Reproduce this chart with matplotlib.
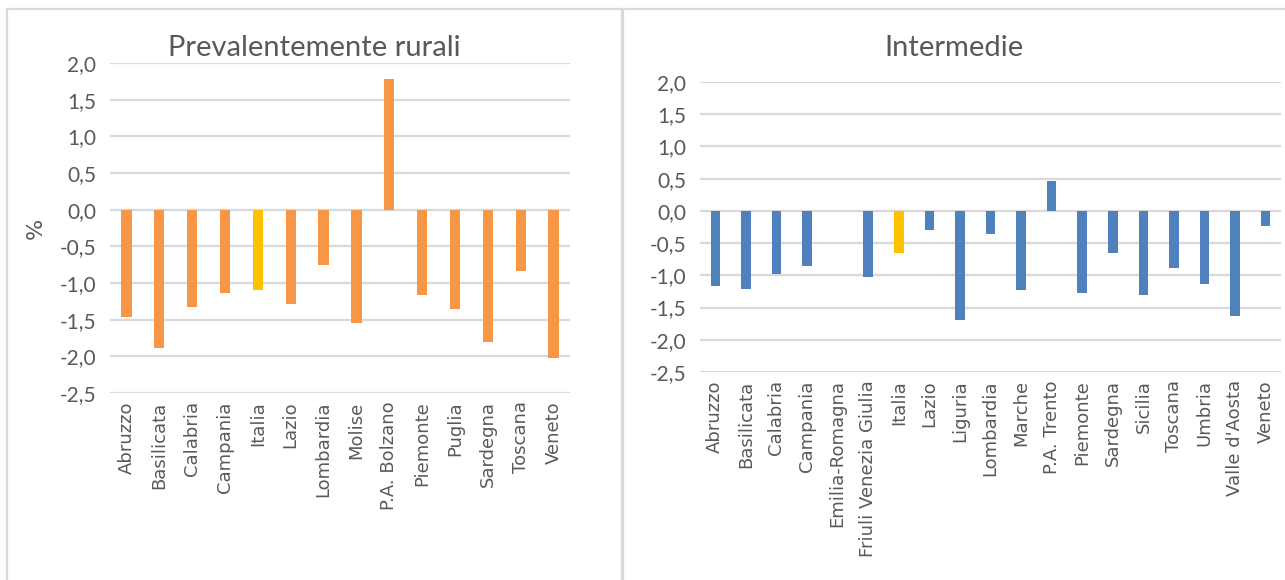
import matplotlib
matplotlib.use("Agg")
import matplotlib.pyplot as plt
from matplotlib.patches import Rectangle
from matplotlib.ticker import FuncFormatter
import numpy as np

# data (variation, %)
rural_regions = ["Abruzzo", "Basilicata", "Calabria", "Campania", "Italia", "Lazio",
                 "Lombardia", "Molise", "P.A. Bolzano", "Piemonte", "Puglia",
                 "Sardegna", "Toscana", "Veneto"]
rural_values = [-1.46, -1.88, -1.33, -1.13, -1.09, -1.28, -0.76, -1.55, 1.78,
                -1.17, -1.35, -1.81, -0.84, -2.02]

inter_regions = ["Abruzzo", "Basilicata", "Calabria", "Campania", "Emilia-Romagna",
                 "Friuli Venezia Giulia", "Italia", "Lazio", "Liguria", "Lombardia",
                 "Marche", "P.A. Trento", "Piemonte", "Sardegna", "Sicilia",
                 "Toscana", "Umbria", "Valle d'Aosta", "Veneto"]
inter_values = [-1.16, -1.21, -0.98, -0.86, np.nan, -1.02, -0.65, -0.30, -1.70,
                -0.36, -1.23, 0.46, -1.28, -0.65, -1.30, -0.88, -1.13, -1.63, -0.24]

yticks = [2.0, 1.5, 1.0, 0.5, 0.0, -0.5, -1.0, -1.5, -2.0, -2.5]

TXT = "#595959"
GRID = "#D9D9D9"
HIGHLIGHT = "#FFC000"


def panel(ax, cats, vals, color):
    x = np.arange(len(cats))
    cols = [HIGHLIGHT if c == "Italia" else color for c in cats]
    ax.bar(x, np.nan_to_num(vals), width=0.31, color=cols, zorder=3)
    ax.set_xlim(-0.5, len(cats) - 0.5)
    ax.set_ylim(-2.5, 2.0)
    ax.set_yticks(yticks)
    ax.yaxis.set_major_formatter(FuncFormatter(lambda v, p: f"{v:.1f}".replace(".", ",")))
    ax.grid(axis="y", color=GRID, lw=1.6, zorder=0)
    for s in ax.spines.values():
        s.set_visible(False)
    ax.tick_params(length=0, colors=TXT)
    ax.tick_params(axis="y", labelsize=15, pad=10)
    for lab in ax.get_yticklabels():
        lab.set_family("Lato")
    ax.set_xticks(x, cats, rotation=90, fontsize=13, color=TXT, family="DejaVu Sans")
    ax.tick_params(axis="x", pad=6)


fig = plt.figure(figsize=(12.85, 5.8), dpi=100)

# chart-area frames
fig.patches.append(Rectangle((7 / 1285, -0.05), (622 - 7) / 1285, 1.05 - 9 / 580,
                             transform=fig.transFigure, fill=False, ec=GRID, lw=1.6))
fig.patches.append(Rectangle((623 / 1285, -0.05), 0.6, 1.05 - 9 / 580,
                             transform=fig.transFigure, fill=False, ec=GRID, lw=1.6))

ax1 = fig.add_axes([110 / 1285, 1 - 393 / 580, 460 / 1285, 330 / 580])
panel(ax1, rural_regions, rural_values, "#F79646")
ax1.set_ylabel("%", fontsize=16, color=TXT, labelpad=10)

ax2 = fig.add_axes([700 / 1285, 1 - 372 / 580, 581 / 1285, 290 / 580])
panel(ax2, inter_regions, inter_values, "#4F81BD")

fig.text(314 / 1285, 1 - 48 / 580, "Prevalentemente rurali", ha="center", va="center",
         fontsize=21, color=TXT, family="Lato")
fig.text(954 / 1285, 1 - 48 / 580, "Intermedie", ha="center", va="center",
         fontsize=21, color=TXT, family="Lato")

fig.savefig("out.png", dpi=100)
